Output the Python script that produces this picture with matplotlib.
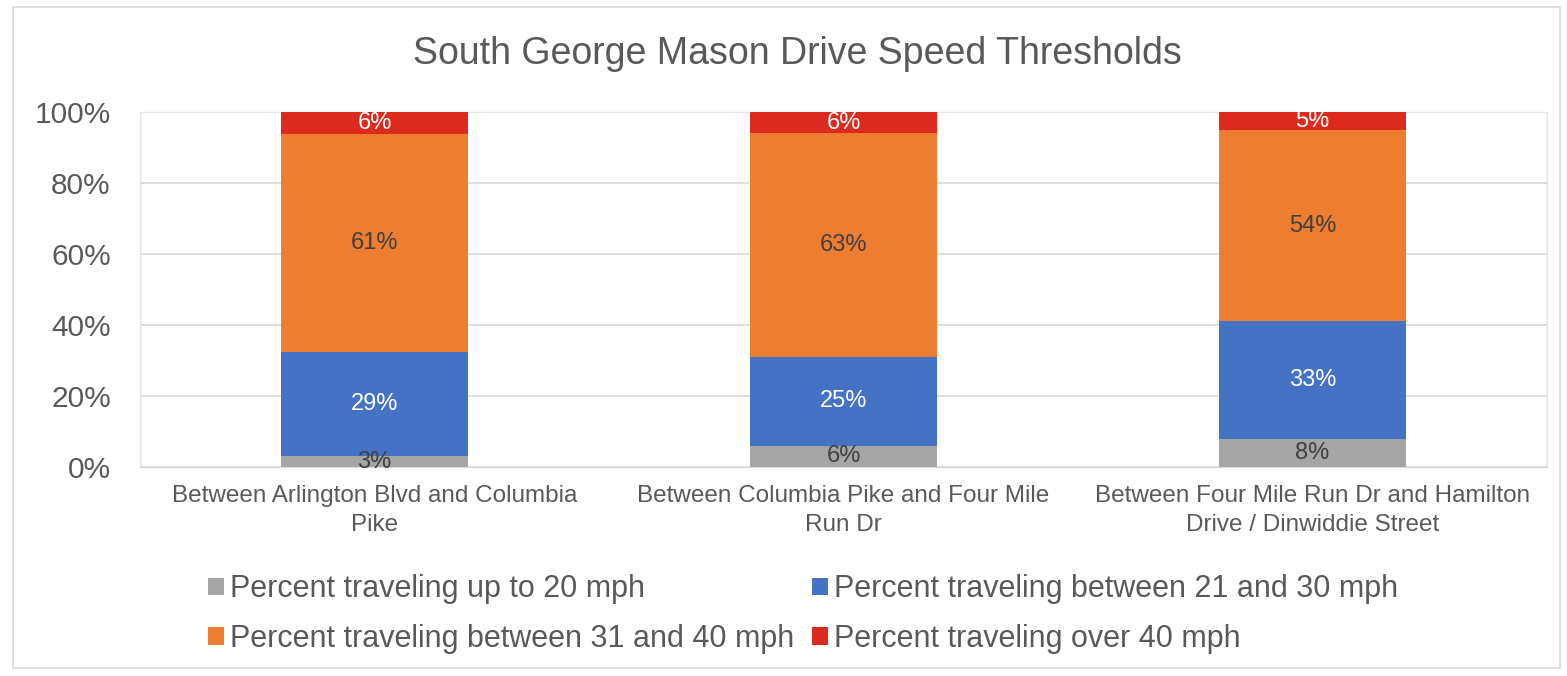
import matplotlib
matplotlib.use("Agg")
import matplotlib.pyplot as plt
import numpy as np

plt.rcParams['font.family'] = ['Liberation Sans', 'DejaVu Sans']

categories = ["Between Arlington Blvd and Columbia\nPike",
              "Between Columbia Pike and Four Mile\nRun Dr",
              "Between Four Mile Run Dr and Hamilton\nDrive / Dinwiddie Street"]
series_names = ["Percent traveling up to 20 mph",
                "Percent traveling between 21 and 30 mph",
                "Percent traveling between 31 and 40 mph",
                "Percent traveling over 40 mph"]
up_to_20 = [3, 6, 8]
b21_30 = [29, 25, 33]
b31_40 = [61, 63, 54]
over_40 = [6, 6, 5]

seg_colors = ["#A5A5A5", "#4472C4", "#ED7D31", "#DC2A1E"]
label_colors = ["#404040", "white", "#404040", "white"]

fig = plt.figure(figsize=(15.67, 6.76), dpi=100)
# outer border
fig.patches.append(plt.Rectangle((13/1567, 1-668/676), (1560-13)/1567, (668-7)/676,
                                 transform=fig.transFigure, fill=False,
                                 edgecolor="#D9D9D9", linewidth=1.2))
ax = fig.add_axes([140/1567, 1-467/676, (1547-140)/1567, (467-112)/676])

data = np.array([up_to_20, b21_30, b31_40, over_40], dtype=float)
totals = data.sum(axis=0)
pct = data / totals * 100
x = np.arange(len(categories))
bottom = np.zeros(len(categories))
handles = []
for i in range(4):
    h = ax.bar(x, pct[i], 0.4, bottom=bottom, color=seg_colors[i], label=series_names[i], zorder=3)
    handles.append(h)
    for j in range(len(categories)):
        ax.text(x[j], bottom[j] + pct[i][j] / 2, f"{int(data[i][j])}%",
                ha="center", va="center", fontsize=17, color=label_colors[i], zorder=4)
    bottom += pct[i]

ax.set_xlim(-0.5, 2.5)
ax.set_ylim(0, 100)
ax.set_yticks([0, 20, 40, 60, 80, 100])
ax.set_yticklabels(["0%", "20%", "40%", "60%", "80%", "100%"], fontsize=21.5, color="#595959")
ax.set_xticks(x)
ax.set_xticklabels(categories, fontsize=17.5, color="#595959", linespacing=1.4)
ax.tick_params(axis="both", length=0)
ax.tick_params(axis="x", pad=13)
ax.tick_params(axis="y", pad=21)
ax.grid(axis="y", color="#D9D9D9", linewidth=1.2, zorder=0)
for s in ax.spines.values():
    s.set_color("#E6E6E6")
    s.set_linewidth(1.0)
ax.spines["bottom"].set_color("#D9D9D9")

fig.text(797/1567, 1-54/676, "South George Mason Drive Speed Thresholds",
         ha="center", va="center", fontsize=27, color="#595959")

order = [handles[0], handles[2], handles[1], handles[3]]
leg = fig.legend(order, [h.get_label() for h in order], ncol=2,
                 loc="center", bbox_to_anchor=(803/1567, 1-614/676),
                 frameon=False, fontsize=22, handlelength=0.5, handleheight=0.5,
                 handletextpad=0.2, columnspacing=0.6, labelspacing=0.65)
for t in leg.get_texts():
    t.set_color("#595959")

fig.savefig("out.png", dpi=100)
